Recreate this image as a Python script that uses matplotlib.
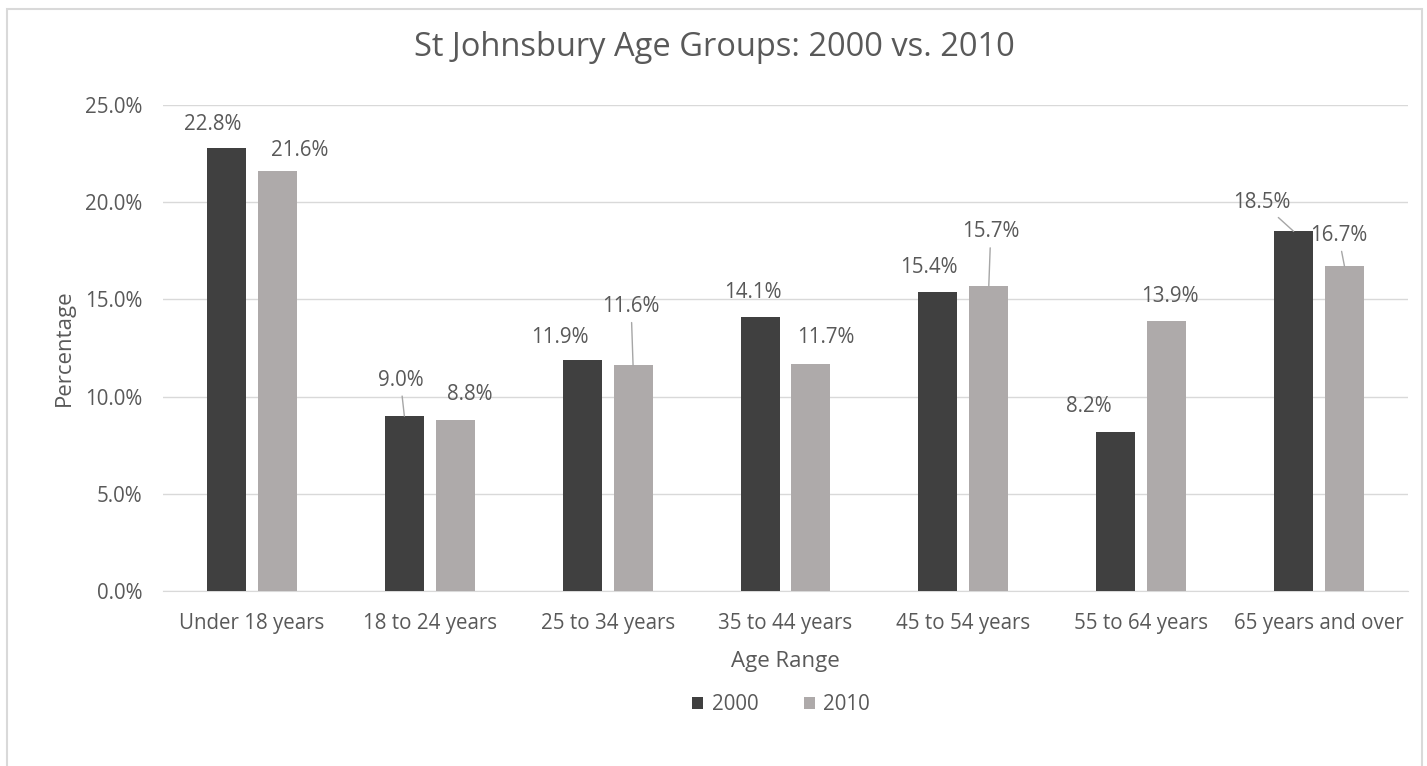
import matplotlib
matplotlib.use('Agg')
import matplotlib.pyplot as plt
import numpy as np
from matplotlib.patches import Rectangle

categories = ['Under 18 years', '18 to 24 years', '25 to 34 years', '35 to 44 years',
              '45 to 54 years', '55 to 64 years', '65 years and over']
pct_2000 = [22.8, 9.0, 11.9, 14.1, 15.4, 8.2, 18.5]
pct_2010 = [21.6, 8.8, 11.6, 11.7, 15.7, 13.9, 16.7]
series_names = ['2000', '2010']

# label offsets from bar top centre, in pixels (dx, dy, leader line?)
offs_2000 = [(-14, 23, False), (-4, 36, True), (-22, 22, False), (-7, 24, False),
             (-9, 24, False), (-27, 25, False), (-32, 29, True)]
offs_2010 = [(22, 21, False), (15, 25, False), (-2, 59, True), (15, 26, False),
             (2, 54, True), (3, 24, False), (-6, 31, True)]

TXT = '#595959'
GRID = '#d9d9d9'
C2000 = '#404040'
C2010 = '#aeaaaa'

plt.rcParams['font.family'] = ['Open Sans', 'DejaVu Sans']

fig = plt.figure(figsize=(14.27, 7.66), dpi=100)
ax = fig.add_axes([163 / 1427, 1 - 591 / 766, (1408 - 163) / 1427, (591 - 105) / 766])

x = np.arange(len(categories))
w = 0.22
sh = 0.143
b1 = ax.bar(x - sh, pct_2000, w, color=C2000, label=series_names[0], zorder=3)
b2 = ax.bar(x + sh, pct_2010, w, color=C2010, label=series_names[1], zorder=3)

px = 0.72  # points per pixel at 100 dpi
for bars, vals, offs in [(b1, pct_2000, offs_2000), (b2, pct_2010, offs_2010)]:
    for bar, v, (dx, dy, lead) in zip(bars, vals, offs):
        cx = bar.get_x() + bar.get_width() / 2
        ap = None
        if lead:
            ap = dict(arrowstyle='-', color='#a6a6a6', lw=1.0, shrinkA=2, shrinkB=0)
        ax.annotate(f'{v:.1f}%', xy=(cx, v), xytext=(dx * px, dy * px),
                    textcoords='offset points', ha='center', va='center',
                    fontsize=14.8, color=TXT, arrowprops=ap, zorder=4)

ax.set_xlim(-0.5, len(categories) - 0.5)
ax.set_ylim(0, 25)
ax.set_yticks(np.arange(0, 25.1, 5))
ax.set_yticklabels([f'{t:.1f}%' for t in np.arange(0, 25.1, 5)])
ax.set_xticks(x)
ax.set_xticklabels(categories)
ax.tick_params(axis='both', length=0, labelsize=14.8, labelcolor=TXT)
ax.tick_params(axis='y', pad=15)
ax.tick_params(axis='x', pad=16)
ax.grid(axis='y', color=GRID, lw=1, zorder=0)
for s in ['top', 'right', 'left']:
    ax.spines[s].set_visible(False)
ax.spines['bottom'].set_color(GRID)

ax.set_xlabel('Age Range', fontsize=16, color=TXT, labelpad=12)
ax.set_ylabel('Percentage', fontsize=16, color=TXT, labelpad=7)
fig.text(714 / 1427, 1 - 47 / 766, 'St Johnsbury Age Groups: 2000 vs. 2010',
         ha='center', va='center', fontsize=23.5, color=TXT)

fig.legend(loc='center', bbox_to_anchor=(781 / 1427, 1 - 705 / 766), ncol=2,
           frameon=False, fontsize=14.8, labelcolor=TXT, handlelength=0.55,
           handleheight=0.55, handletextpad=0.4, columnspacing=2.2)

fig.patches.append(Rectangle((7 / 1427, -0.05), (1422 - 7) / 1427, 1.05 - 9 / 766,
                             transform=fig.transFigure, fill=False,
                             edgecolor=GRID, lw=1.5))

fig.savefig('out.png', dpi=100)
plt.close(fig)
